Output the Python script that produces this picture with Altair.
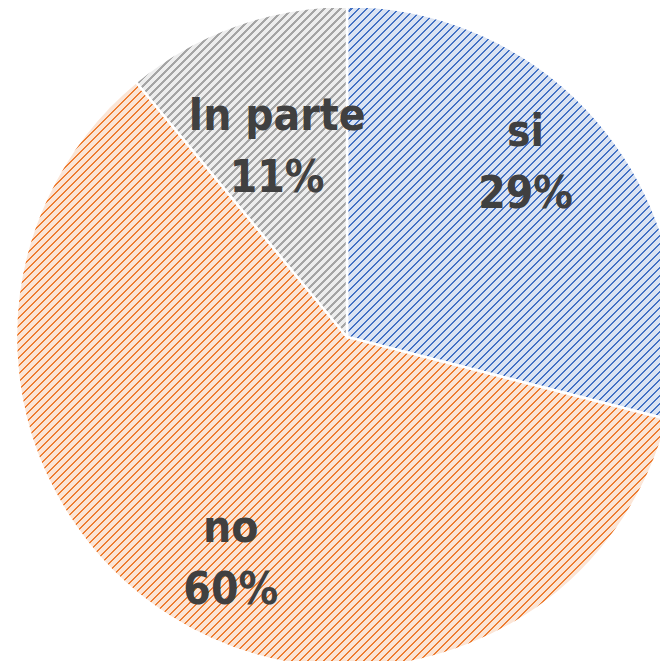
import altair as alt
import pandas as pd
import numpy as np

# ---- data ----
categories = ["si", "no", "In parte"]
values = [29, 60, 11]
line_colors = ["#4472c4", "#ed7d31", "#a5a5a5"]
back_colors = ["#dae3f3", "#fbe5d6", "#ededed"]

# ---- style ----
R = 331
CX, CY = 339, 329
STRIPE = 8  # exact pixel period along x+y
LINE_FRAC = 0.3
FONT = "'Noto Sans ExtraCondensed', 'Liberation Sans Narrow', 'Arial Narrow', 'Noto Sans Condensed', 'DejaVu Sans Condensed', 'Roboto Condensed', Lato, sans-serif"
label_offsets = {"si": (-2, -51.5), "no": (28, -12.5), "In parte": (26, 13.5)}

total = sum(values)
df = pd.DataFrame({"cat": categories, "value": values, "order": list(range(len(values)))})


def bbox(a0, a1, r):
    pts = [(0.0, 0.0)]
    angs = [a0, a1] + [k * np.pi / 2 for k in range(5) if a0 < k * np.pi / 2 < a1]
    for a in angs:
        pts.append((r * np.sin(a), -r * np.cos(a)))
    xs, ys = zip(*pts)
    return max(xs) - min(xs), max(ys) - min(ys)


def hatch(w, h, line, back):
    n = int(np.ceil((w + h) / STRIPE))
    L = n * STRIPE
    k = L / (w * w + h * h)
    stops = []
    for i in range(n):
        o0 = i / n
        o1 = (i + 1 - LINE_FRAC) / n
        o2 = (i + 1) / n
        stops += [
            {"offset": o0, "color": back},
            {"offset": o1, "color": back},
            {"offset": o1, "color": line},
            {"offset": o2, "color": line},
        ]
    return {"gradient": "linear", "x1": 0, "y1": 0, "x2": w * k, "y2": h * k, "stops": stops}


base = (
    alt.Chart(df)
    .transform_window(cum="sum(value)", sort=[alt.SortField("order")])
    .transform_calculate(
        start="datum.cum - datum.value",
        mid="datum.cum - datum.value / 2",
        label="datum.cat + '\\n' + datum.value + '%'",
    )
)
theta_scale = alt.Scale(domain=[0, total])

layers = []
cum = 0
for cat, v, lc, bc in zip(categories, values, line_colors, back_colors):
    a0 = cum / total * 2 * np.pi
    a1 = (cum + v) / total * 2 * np.pi
    cum += v
    w, h = bbox(a0, a1, R)
    layers.append(
        base.transform_filter(alt.datum.cat == cat)
        .mark_arc(fill=hatch(w, h, lc, bc), stroke="white", strokeWidth=2.5, radius=R)
        .encode(
            theta=alt.Theta("start:Q", scale=theta_scale),
            theta2="cum:Q",
            x=alt.value(CX),
            y=alt.value(CY),
        )
    )

for cat in categories:
    dx, dy = label_offsets[cat]
    layers.append(
        base.transform_filter(alt.datum.cat == cat)
        .mark_text(
            radius=245,
            dx=dx,
            dy=dy,
            font=FONT,
            fontSize=44,
            fontWeight="bold",
            color="#404040",
            lineBreak="\n",
            lineHeight=62,
            align="center",
            baseline="middle",
        )
        .encode(theta=alt.Theta("mid:Q", scale=theta_scale), text="label:N")
    )

chart = (
    alt.layer(*layers)
    .properties(
        width=652,
        height=653,
        padding=0,
        autosize=alt.AutoSizeParams(type="none"),
    )
    .configure_view(strokeWidth=0)
)

chart.save("out.html", embed_options={"renderer": "svg", "actions": False})
